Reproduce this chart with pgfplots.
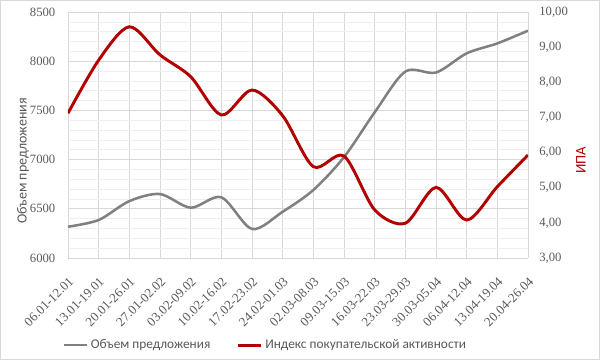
\documentclass[border=0pt]{standalone}
\usepackage{pgfplots}
\pgfplotsset{compat=1.18}
\usepackage{fontspec}
\setmainfont{Carlito}
\newfontfamily\tickfont{Liberation Serif}
\definecolor{txt}{RGB}{89,89,89}
\definecolor{grayline}{RGB}{128,128,128}
\definecolor{redline}{RGB}{178,0,0}
\definecolor{gridc}{RGB}{217,217,217}
\definecolor{minorc}{RGB}{238,238,238}
\begin{document}
\begin{tikzpicture}
\path[use as bounding box] (-51pt,-76.5pt) rectangle (399pt,193.5pt);
\draw[gray!30] (-50.6pt,-76.1pt) rectangle (398.6pt,193.1pt);
\begin{axis}[
  at={(0,0)}, anchor=south west, scale only axis,
  width=345pt, height=184.5pt,
  xmin=0, xmax=15, ymin=6000, ymax=8500,
  xtick={0,...,15},
  xticklabels={06.01-12.01,13.01-19.01,20.01-26.01,27.01-02.02,03.02-09.02,10.02-16.02,17.02-23.02,24.02-01.03,02.03-08.03,09.03-15.03,16.03-22.03,23.03-29.03,30.03-05.04,06.04-12.04,13.04-19.04,20.04-26.04},
  x tick label style={rotate=45, anchor=north east, font=\tickfont\fontsize{9.8}{11}\selectfont, text=txt, inner sep=1pt},
  xticklabel shift=12pt,
  ytick={6000,6500,...,8500},
  minor y tick num=4,
  xmajorgrids, ymajorgrids, yminorgrids,
  major grid style={gridc, line width=0.6pt},
  minor grid style={minorc, line width=0.5pt},
  axis line style={draw=none},
  tick style={draw=none},
  y tick label style={font=\tickfont\fontsize{9.5}{11}\selectfont, text=txt},
  /pgf/number format/assume math mode=true,
  /pgf/number format/1000 sep={},
  yticklabel style={xshift=-6pt},
  ylabel={Объем предложения},
  every axis y label/.style={at={(axis description cs:-0.098,0.394)}, rotate=90, anchor=center, font=\fontsize{10.5}{12}\selectfont, text=txt},
  legend columns=2,
  legend style={draw=none, at={(0.43,-0.354)}, anchor=center, font=\fontsize{10}{12}\selectfont, text=txt, /tikz/every even column/.append style={column sep=18pt}},
  legend image code/.code={\draw[#1] (0pt,0pt) -- (17pt,0pt);},
]
\addplot[grayline, line width=1.9pt, smooth, tension=0.5] coordinates {
(0,6318) (1,6386) (2,6578) (3,6650) (4,6511) (5,6617) (6,6295) (7,6470)
(8,6691) (9,7025) (10,7480) (11,7895) (12,7885) (13,8080) (14,8181) (15,8310)};
\addlegendentry{Объем предложения}
\addlegendimage{redline, line width=2.2pt}
\addlegendentry{Индекс покупательской активности}
\end{axis}
\begin{axis}[
  at={(0,0)}, anchor=south west, scale only axis,
  width=345pt, height=184.5pt,
  xmin=0, xmax=15, ymin=3, ymax=10,
  axis x line=none, axis y line*=right,
  ytick={3,4,...,10},
  axis line style={draw=none},
  tick style={draw=none},
  y tick label style={font=\tickfont\fontsize{9.5}{11}\selectfont, text=txt},
  /pgf/number format/assume math mode=true,
  /pgf/number format/.cd, fixed, fixed zerofill, precision=2, use comma,
  /pgfplots/.cd,
  yticklabel style={xshift=5pt},
  ylabel={ИПА},
  every axis y label/.style={at={(axis description cs:1.115,0.398)}, rotate=90, anchor=center, font=\fontsize{11}{13}\selectfont, text=redline},
]
\addplot[redline, line width=2.2pt, smooth, tension=0.5] coordinates {
(0,7.12) (1,8.63) (2,9.58) (3,8.78) (4,8.16) (5,7.07) (6,7.78) (7,7.05)
(8,5.60) (9,5.90) (10,4.37) (11,3.99) (12,5.01) (13,4.08) (14,5.03) (15,5.93)};
\end{axis}
\end{tikzpicture}
\end{document}
